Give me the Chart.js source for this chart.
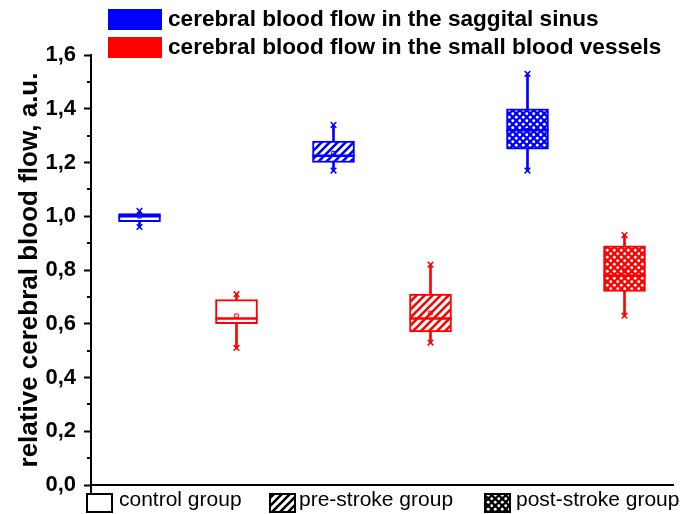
<!DOCTYPE html>
<html>
<head>
<meta charset="utf-8">
<script src="https://cdn.jsdelivr.net/npm/chart.js@4/dist/chart.umd.min.js"></script>
<style>
  body { margin: 0; background: #fff; }
  #wrap { width: 682px; height: 514px; position: relative; }
</style>
</head>
<body>
<div id="wrap"><canvas id="myChart"></canvas></div>
<script>
// groups (x) and the two measured vessels (series)
var groups = ['control group', 'pre-stroke group', 'post-stroke group'];
var vessels = ['cerebral blood flow in the saggital sinus', 'cerebral blood flow in the small blood vessels'];
var vesselColors = ['#0000ff', '#ff0000'];

// saggital sinus boxes
var sinusMin    = [0.96, 1.17, 1.17];
var sinusQ1     = [0.98, 1.20, 1.25];
var sinusMedian = [1.00, 1.225, 1.32];
var sinusQ3     = [1.01, 1.28, 1.40];
var sinusMax    = [1.02, 1.34, 1.53];
var sinusMean   = [1.00, 1.235, 1.32];

// small blood vessels boxes
var smallMin    = [0.51, 0.53, 0.63];
var smallQ1     = [0.60, 0.57, 0.72];
var smallMedian = [0.62, 0.62, 0.78];
var smallQ3     = [0.69, 0.71, 0.89];
var smallMax    = [0.71, 0.82, 0.93];
var smallMean   = [0.63, 0.64, 0.80];

var yMin = 0, yMax = 1.6, yStep = 0.2;

/*....patterns for the groups*/
function hatch(color) {
    var c = document.createElement('canvas');
    c.width = 8; c.height = 8;
    var x = c.getContext('2d');
    x.fillStyle = '#fff';
    x.fillRect(0, 0, 8, 8);
    x.strokeStyle = color;
    x.lineWidth = 2.6;
    x.beginPath();
    x.moveTo(-2, 10); x.lineTo(10, -2);
    x.moveTo(-2, 2); x.lineTo(2, -2);
    x.moveTo(6, 10); x.lineTo(10, 6);
    x.stroke();
    return x.createPattern(c, 'repeat');
}
function cross(color) {
    var c = document.createElement('canvas');
    c.width = 7; c.height = 7;
    var x = c.getContext('2d');
    x.fillStyle = color;
    x.fillRect(0, 0, 7, 7);
    x.fillStyle = '#fff';
    [[1.75, 1.75], [5.25, 5.25]].forEach(function (p) {
        x.beginPath();
        x.arc(p[0], p[1], 1.45, 0, Math.PI * 2);
        x.fill();
    });
    return x.createPattern(c, 'repeat');
}
function groupFill(g, color) {
    if (g == 0) return '#fff';
    if (g == 1) return hatch(color);
    return cross(color);
}

// 6 slots on the x axis: group g, vessel v -> index 2g+v
var slots = [];
groups.forEach(function (g) {
    vessels.forEach(function (v) { slots.push(g + ' / ' + v); });
});
function spread(arr, v) {
    var out = [];
    slots.forEach(function () { out.push(null); });
    arr.forEach(function (val, g) { out[2 * g + v] = val; });
    return out;
}
function pairs(a, b, v) {
    return spread(a.map(function (val, g) { return [val, b[g]]; }), v);
}
function ends(a, b, v) {
    var out = [];
    a.forEach(function (val, g) {
        out.push({ x: slots[2 * g + v], y: val });
        out.push({ x: slots[2 * g + v], y: b[g] });
    });
    return out;
}

var series = [
    { min: sinusMin, q1: sinusQ1, med: sinusMedian, q3: sinusQ3, max: sinusMax, mean: sinusMean },
    { min: smallMin, q1: smallQ1, med: smallMedian, q3: smallQ3, max: smallMax, mean: smallMean }
];

var datasets = [];
series.forEach(function (s, v) {
    var col = vesselColors[v];
    datasets.push({
        type: 'bar', label: vessels[v] + ' whisker', data: pairs(s.min, s.max, v),
        backgroundColor: col, borderWidth: 0, barThickness: 2, grouped: false, order: 3
    });
    datasets.push({
        type: 'bar', label: vessels[v], data: pairs(s.q1, s.q3, v),
        backgroundColor: spread(groups.map(function (g, i) { return groupFill(i, col); }), v),
        borderColor: col, borderWidth: 2, borderSkipped: false,
        barThickness: 42, grouped: false, order: 2
    });
    datasets.push({
        type: 'line', label: vessels[v] + ' median', data: spread(s.med, v),
        showLine: false, pointStyle: 'line', pointRadius: 21, pointBorderWidth: 2.5,
        pointBorderColor: col, order: 1
    });
    datasets.push({
        type: 'line', label: vessels[v] + ' mean', data: spread(s.mean, v),
        showLine: false, pointStyle: 'rect', pointRadius: 2.5, pointBorderWidth: 1,
        pointBorderColor: col, pointBackgroundColor: 'rgba(0,0,0,0)', order: 0
    });
    datasets.push({
        type: 'line', label: vessels[v] + ' min/max', data: ends(s.min, s.max, v),
        showLine: false, pointStyle: 'crossRot', pointRadius: 4, pointBorderWidth: 1.5,
        pointBorderColor: col, order: 0
    });
});

var boldFont = '"Liberation Sans", Arial, sans-serif';

// minor ticks, axis stub and both legends
var extras = {
    id: 'extras',
    afterDraw: function (chart) {
        var ctx = chart.ctx, y = chart.scales.y, area = chart.chartArea;
        ctx.save();
        ctx.strokeStyle = '#000';
        ctx.lineWidth = 2;
        ctx.beginPath();
        for (var t = yMin + yStep / 2; t < yMax; t += yStep) {
            var py = Math.round(y.getPixelForValue(t));
            ctx.moveTo(area.left - 4, py);
            ctx.lineTo(area.left, py);
        }
        ctx.moveTo(area.left, area.bottom);
        ctx.lineTo(area.left, area.bottom + 8);
        ctx.stroke();

        // top legend
        ctx.textBaseline = 'middle';
        ctx.font = 'bold 22.6px ' + boldFont;
        vessels.forEach(function (name, i) {
            var ty = 9 + i * 28;
            ctx.fillStyle = vesselColors[i];
            ctx.fillRect(108, ty, 54, 21);
            ctx.fillStyle = '#000';
            ctx.fillText(name, 168, ty + 11);
        });

        // bottom legend
        ctx.font = '21px ' + boldFont;
        var boxX = [87, 270, 485], textX = [119, 299, 516];
        groups.forEach(function (g, i) {
            ctx.fillStyle = groupFill(i, '#000');
            ctx.fillRect(boxX[i], 494, 25, 18);
            ctx.strokeStyle = '#000';
            ctx.lineWidth = 2;
            ctx.strokeRect(boxX[i], 494, 25, 18);
            ctx.fillStyle = '#000';
            ctx.fillText(g, textX[i], 500);
        });
        ctx.restore();
    }
};

var ctx = document.getElementById('myChart').getContext('2d');
var chart = new Chart(ctx, {
    data: { labels: slots, datasets: datasets },
    options: {
        responsive: true,
        maintainAspectRatio: false,
        animation: false,
        layout: { autoPadding: false, padding: { top: 55, bottom: 29, left: 0, right: 9 } },
        plugins: { legend: { display: false }, tooltip: { enabled: false } },
        scales: {
            x: {
                type: 'category',
                offset: true,
                grid: { display: false },
                ticks: { display: false },
                border: { color: '#000', width: 2 },
                afterFit: function (s) { s.height = 0; }
            },
            y: {
                min: yMin, max: yMax,
                border: { color: '#000', width: 2 },
                grid: { drawOnChartArea: false, tickColor: '#000', tickLength: 7, tickWidth: 2 },
                ticks: {
                    stepSize: yStep, color: '#000', padding: 8,
                    font: { family: boldFont, size: 22, weight: 'bold' },
                    callback: function (val) { return Number(val).toFixed(1).replace('.', ','); }
                },
                title: {
                    display: true, text: 'relative cerebral blood flow, a.u.', color: '#000',
                    font: { family: boldFont, size: 26, weight: 'bold' },
                    padding: { top: 14, bottom: 0 }
                },
                afterFit: function (s) { s.width = 91; }
            }
        }
    },
    plugins: [extras]
});
</script>
</body>
</html>
